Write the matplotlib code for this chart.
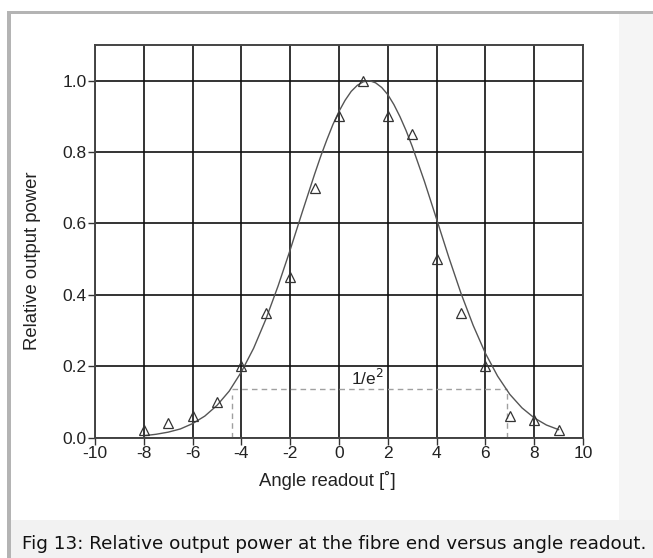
import matplotlib
matplotlib.use("Agg")
import matplotlib.pyplot as plt
from matplotlib.patches import Rectangle

# measured points (triangles)
angle = [-8, -7, -6, -5, -4, -3, -2, -1, 0, 1, 2, 3, 4, 5, 6, 7, 8, 9]
power = [0.02, 0.04, 0.06, 0.10, 0.20, 0.35, 0.45, 0.70, 0.90, 1.00,
         0.90, 0.85, 0.50, 0.35, 0.20, 0.06, 0.05, 0.02]

# fitted curve (finer near the peak)
fit_angle = [-8.0, -7.5, -7.0, -6.5, -6.0, -5.5, -5.0, -4.5, -4.0, -3.5,
             -3.0, -2.5, -2.0, -1.5, -1.0, -0.75, -0.5, -0.25, 0.0, 0.25,
             0.5, 0.75, 1.0, 1.25, 1.5, 1.75, 2.0, 2.25, 2.5, 2.75,
             3.0, 3.5, 4.0, 4.5, 5.0, 5.5, 6.0, 6.5, 7.0, 7.5,
             8.0, 8.5, 9.0]
fit_power = [0.005, 0.009, 0.015, 0.024, 0.039, 0.060, 0.090, 0.130, 0.184, 0.250,
             0.331, 0.424, 0.526, 0.633, 0.738, 0.788, 0.834, 0.877, 0.914, 0.945,
             0.970, 0.987, 0.997, 1.000, 0.994, 0.981, 0.961, 0.933, 0.899, 0.860,
             0.816, 0.718, 0.612, 0.505, 0.404, 0.314, 0.236, 0.172, 0.121, 0.083,
             0.055, 0.035, 0.022]

# 1/e^2 level and its crossings
e2_level = 0.135
e2_left = -4.4
e2_right = 6.9

x_ticks = list(range(-10, 11, 2))
y_ticks = [0.0, 0.2, 0.4, 0.6, 0.8, 1.0]
y_ticklabels = ["0.0", "0.2", "0.4", "0.6", "0.8", "1.0"]

W, H = 653, 558
fig = plt.figure(figsize=(W / 100, H / 100), dpi=100)
fig.patch.set_facecolor("white")


def px_rect(x0, y0, x1, y1, color):
    # rectangle given in pixel coords from top-left
    fig.add_artist(Rectangle((x0 / W, 1 - y1 / H), (x1 - x0) / W, (y1 - y0) / H,
                             transform=fig.transFigure, facecolor=color,
                             edgecolor="none", zorder=0))


px_rect(619, 14, 653, 520, "#f5f5f5")
px_rect(11, 520, 653, 558, "#f2f2f2")
px_rect(8, 11, 653, 14, "#b4b4b4")
px_rect(7, 11, 11, 558, "#b4b4b4")

sans = ["Liberation Sans", "DejaVu Sans"]

ax = fig.add_axes([95 / W, 1 - 437.5 / H, (583 - 95) / W, (437.5 - 45) / H])
ax.set_facecolor("none")
ax.set_xlim(-10, 10)
ax.set_ylim(0, 1.1)
ax.set_xticks(x_ticks)
ax.set_xticklabels([str(t) for t in x_ticks], family=sans, fontsize=12.5, color="#222222")
ax.set_yticks(y_ticks)
ax.set_yticklabels(y_ticklabels, family=sans, fontsize=12.5, color="#222222")
ax.tick_params(direction="out", length=5, width=1.0, color="#333333", pad=1)
for s in ax.spines.values():
    s.set_color("#444444")
    s.set_linewidth(1.4)
ax.grid(True, color="#111111", linewidth=1.2)
ax.set_axisbelow(True)

ax.plot(fit_angle, fit_power, color="#555555", linewidth=1.0, zorder=3)
ax.plot(angle, power, linestyle="none", marker="^", markersize=7,
        markerfacecolor="none", markeredgecolor="#333333", markeredgewidth=0.9, zorder=4)

dash = dict(color="#a0a0a0", linewidth=1.0, linestyle=(0, (4, 3)), zorder=2)
ax.plot([e2_left, e2_right], [e2_level, e2_level], **dash)
ax.plot([e2_left, e2_left], [0, e2_level - 0.015], **dash)
ax.plot([e2_right, e2_right], [0, e2_level - 0.01], **dash)
ax.text(0.5, 0.147, "1/e$^2$", family=sans, fontsize=12.5, color="#222222")

ax.set_xlabel("Angle readout [˚]", family=sans, fontsize=13.3, color="#222222")
ax.xaxis.set_label_coords(0.477, -0.085)
ax.set_ylabel("Relative output power", family=sans, fontsize=13.3, color="#222222")
ax.yaxis.set_label_coords(-0.111, 0.45)

fig.text(22 / W, 1 - 544 / H, "Fig 13: Relative output power at the fibre end versus angle readout.",
         family=["DejaVu Sans"], fontsize=13.2, color="#111111", va="center")

fig.savefig("out.png", dpi=100)
